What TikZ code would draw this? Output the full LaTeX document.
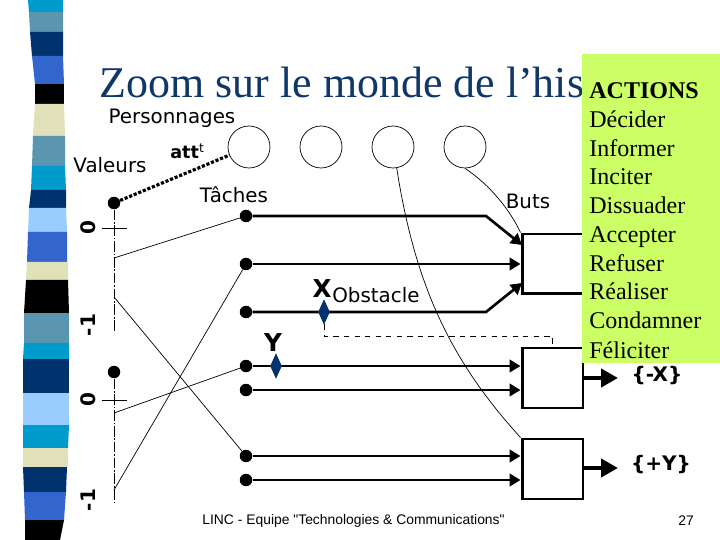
\documentclass[tikz,border=0pt]{standalone}
\usepackage{fontspec}
\setmainfont{Liberation Serif}
\setsansfont{DejaVu Sans}
\newfontfamily\footfont{Liberation Sans}
\usetikzlibrary{calc}
\usetikzlibrary{arrows.meta}
\usetikzlibrary{shapes.geometric}
\definecolor{titleblue}{RGB}{15,55,105}
\definecolor{panelgreen}{RGB}{204,255,102}
\definecolor{stripecyan}{RGB}{0,155,205}
\definecolor{stripegrey}{RGB}{90,150,175}
\definecolor{stripenavy}{RGB}{0,51,110}
\definecolor{striperoyal}{RGB}{51,102,204}
\definecolor{stripebeige}{RGB}{225,225,185}
\definecolor{stripesky}{RGB}{153,204,255}
\tikzset{
  perso/.style={draw,circle,inner sep=0,minimum size=.84cm},
  blob/.style={fill=black,circle,inner sep=0,minimum size=.25cm},
  task/.style={line width=1.5pt,-{Triangle[length=.22cm,width=.25cm]}},
  outarrow/.style={line width=2.6pt,-{Triangle[length=.34cm,width=.36cm]}},
  goalbox/.style={draw,line width=1.7pt,fill=white,inner sep=0,minimum width=1.22cm,minimum height=1.2cm},
  gem/.style={diamond,fill=stripenavy,draw=stripenavy,inner sep=0,minimum width=.22cm,minimum height=.48cm},
  lab/.style={inner sep=0,font=\sffamily\fontsize{11.3}{13}\selectfont},
  blab/.style={inner sep=0,font=\sffamily\bfseries\fontsize{11.4}{13}\selectfont},
  bigl/.style={inner sep=0,font=\sffamily\bfseries\fontsize{14}{16}\selectfont},
  act/.style={inner sep=0,anchor=base west,font=\fontsize{13.66}{16}\selectfont},
  foot/.style={inner sep=0,font=\footfont\fontsize{7.9}{10}\selectfont}
}
\begin{document}
\begin{tikzpicture}[x=.02cm,y=-.02cm]
\useasboundingbox (0,0) rectangle (720,540);
% side strip
\foreach \ya/\la/\ra/\yb/\lb/\rb/\col in {
  0/28/63/12/29/63/stripecyan, 12/29/63/32/30/63/stripegrey, 32/30/63/56/32/63/stripenavy,
  56/32/63/84/35/64/striperoyal, 84/35/64/104/35/64/black, 104/35/64/136/33/65/stripebeige,
  136/33/65/166/32/65/stripegrey, 166/32/65/190/31/66/stripecyan, 190/31/66/208/29/66/stripenavy,
  208/29/66/232/28/67/stripesky, 232/28/67/262/27/67/striperoyal, 262/27/68/280/26/68/stripebeige,
  280/26/68/313/24/69/black, 313/24/69/343/24/69/stripegrey, 343/24/69/359/23/69/stripecyan,
  359/23/69/393/23/69/stripenavy, 393/23/69/425/23/69/stripesky, 425/23/69/448/23/68/stripecyan,
  448/23/68/467/23/68/stripebeige, 467/23/67/492/24/66/stripenavy, 492/24/66/520/25/64/striperoyal,
  520/25/64/540/25/60/black} {
 \fill[\col] (\la,\ya) -- (\ra,\ya) -- (\rb,\yb) -- (\lb,\yb) -- cycle;
}
\node[inner sep=0,anchor=base west,text=titleblue,font=\fontsize{25}{28}\selectfont] (title) at (99.5,98) {Zoom sur le monde de l’his};
% personnages
\foreach \n/\x in {1/249,2/321,3/393,4/465} {
 \node[perso] (c\n) at (\x,147) {};
}
\node[lab] (perso) at (172,118) {Personnages};
\node[lab] (val) at (110,165) {Valeurs};
\node[lab] (tach) at (234,195) {Tâches};
\node[lab] (buts) at (528,201) {Buts};
% axes
\node[blob] (v1) at (114,203) {};
\node[blob] (v2) at (114,372) {};
\coordinate (e1) at (114,331);
\coordinate (e2) at (114,502);
\draw[dash pattern=on 6pt off 1pt on 1pt off 1pt] (v1) -- (e1);
\draw[dash pattern=on 6pt off 1pt on 1pt off 1pt] (v2) -- (e2);
\foreach \y in {228,400} {
 \draw (102,\y) --++(25,0);
}
\node[blab,rotate=90] (z1) at (88,228) {0};
\node[blab,rotate=90] (m1) at (88,325) {-1};
\node[blab,rotate=90] (z2) at (88,400) {0};
\node[blab,rotate=90] (m2) at (88,500) {-1};
\draw[line width=1.8pt,dash pattern=on 1.8pt off 1pt] (v1) -- (c1);
\node[inner sep=0,anchor=base west,font=\sffamily\bfseries\fontsize{10}{12}\selectfont] (att) at (170,159) {att\textsuperscript{\mdseries t}};
% taches
\foreach \n/\y in {1/216,2/264,3/312,4/366,5/390,6/456,7/480} {
 \node[blob] (t\n) at (246,\y) {};
}
\node[goalbox] (b1) at (552.5,264) {};
\node[goalbox] (b2) at (552.5,378) {};
\node[goalbox] (b3) at (552.5,469) {};
\coordinate (k1) at (486,216);
\coordinate (k3) at (486,312);
\coordinate (h1) at (522,245);
\coordinate (h3) at (522,283);
\draw[task] (t1) -- (k1) -- (h1);
\draw[task] (t2) -- (t2 -| b1.west);
\draw[task] (t3) -- (k3) -- (h3);
\foreach \n/\b in {4/b2,5/b2,6/b3,7/b3} {
 \draw[task] (t\n) -- (t\n -| \b.west);
}
% liens
\coordinate (p1) at (114,258);
\coordinate (p2) at (114,297);
\coordinate (p3) at (114,413);
\coordinate (p4) at (114,490);
\draw (p1) -- (t1);
\draw (p2) -- (t6);
\draw (p3) -- (t4);
\draw (p4) -- (t2);
\draw (c3.-80) .. controls (415,285) and (450,360) .. (b3.north west);
\draw (c4.south) .. controls (490,185) and (510,210) .. (b1.north west);
% obstacles
\node[gem] (dX) at (324,312) {};
\node[gem] (dY) at (276,366) {};
\node[bigl] (X) at (322,289) {X};
\node[bigl] (Y) at (273,343) {Y};
\node[lab,anchor=base west] (obst) at (332,303) {Obstacle};
\coordinate (dk) at (324,336);
\draw[dashed] (dX.south) -- (dk) -| (b2.north);
% sorties
\coordinate (s2) at (618,378);
\coordinate (s3) at (618,468);
\draw[outarrow] (b2.east |- s2) -- (s2);
\draw[outarrow] (b3.east |- s3) -- (s3);
\node[blab] (mX) at (657,376) {\{-X\}};
\node[blab] (pY) at (661,465) {\{+Y\}};
% actions
\fill[panelgreen] (582,54) rectangle (720,363);
\node[act,font=\bfseries\fontsize{13.66}{16}\selectfont] (a0) at (589,99) {ACTIONS};
\foreach \n/\y/\t in {1/128/Décider,2/157/Informer,3/185/Inciter,4/214/Dissuader,5/243/Accepter,6/272/Refuser,7/300/Réaliser,8/329/Condamner,9/358/Féliciter} {
 \node[act] (a\n) at (589,\y) {\t};
}
\node[foot] (ft) at (353.5,521) {LINC - Equipe "Technologies \& Communications"};
\node[foot] (pg) at (686,521) {27};
\end{tikzpicture}
\end{document}
